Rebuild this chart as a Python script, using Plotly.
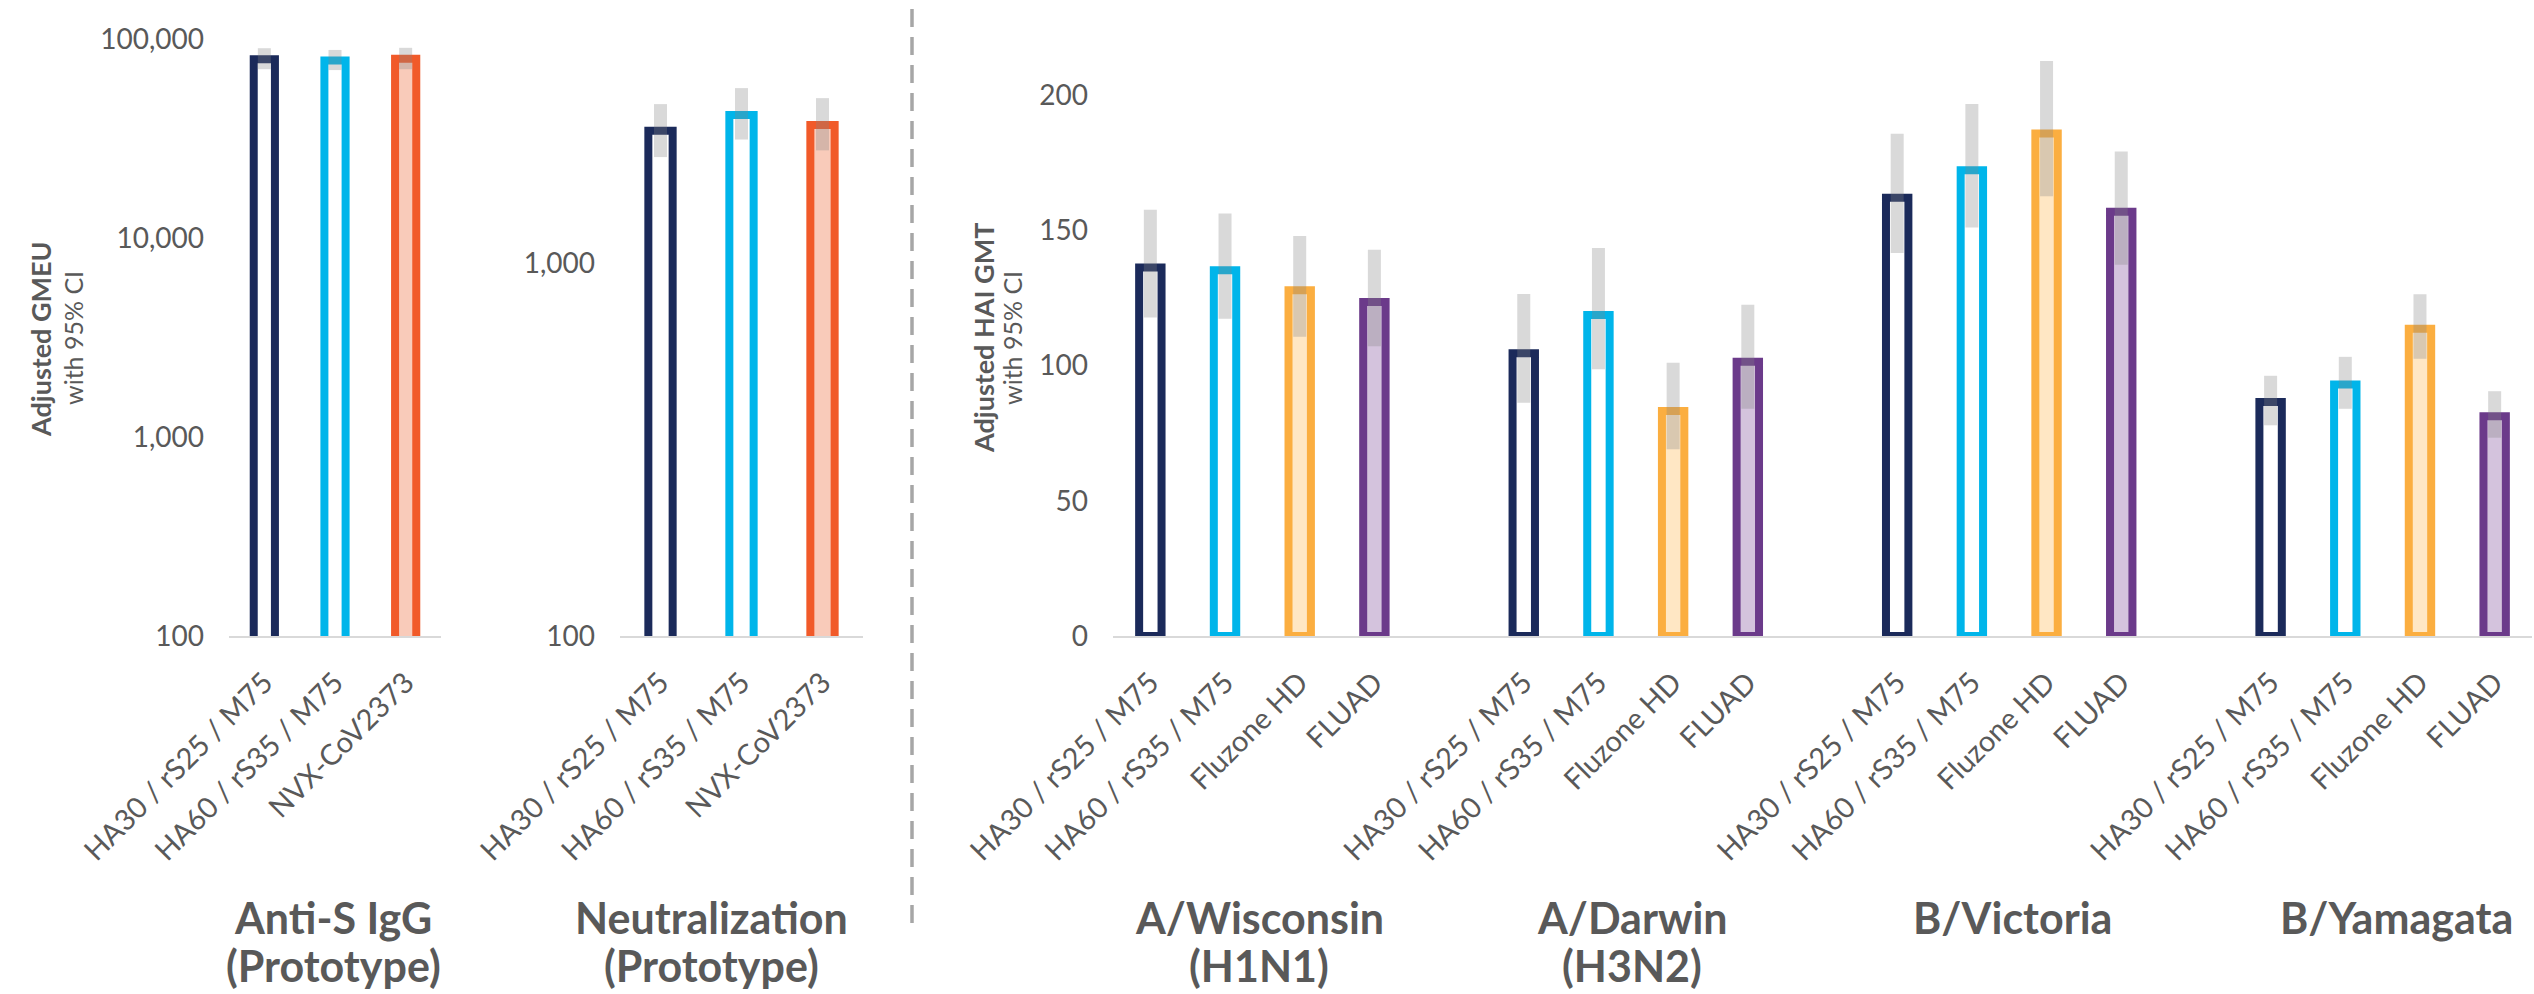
import plotly.graph_objects as go

W, H = 2534, 994

# ---------------- data ----------------
# COVID panels: three vaccine arms
covid_arms = ["HA30 / rS25 / M75", "HA60 / rS35 / M75", "NVX-CoV2373"]

igg_gmeu = [79200, 77900, 79600]
igg_lower = [70500, 69800, 70500]
igg_upper = [89900, 88100, 90300]

neut_gmt = [2261, 2494, 2344]
neut_lower = [1923, 2143, 2004]
neut_upper = [2667, 2944, 2767]

# Influenza HAI panel: four strains x four vaccine arms
flu_strains = [("A/Wisconsin", "(H1N1)"), ("A/Darwin", "(H3N2)"), ("B/Victoria", ""), ("B/Yamagata", "")]
flu_arms = ["HA30 / rS25 / M75", "HA60 / rS35 / M75", "Fluzone HD", "FLUAD"]

hai_ha30 = [136.2, 104.5, 162.0, 86.5]
hai_ha30_lower = [117.7, 86.2, 141.6, 77.9]
hai_ha30_upper = [157.6, 126.4, 185.7, 96.2]

hai_ha60 = [135.2, 118.7, 172.2, 93.0]
hai_ha60_lower = [117.3, 98.6, 151.0, 84.0]
hai_ha60_upper = [156.2, 143.4, 196.7, 103.2]

hai_fluzone = [127.8, 83.2, 185.8, 113.6]
hai_fluzone_lower = [110.6, 69.0, 162.6, 102.5]
hai_fluzone_upper = [147.9, 101.0, 212.6, 126.3]

hai_fluad = [123.5, 101.4, 156.8, 81.2]
hai_fluad_lower = [107.1, 84.0, 137.2, 73.3]
hai_fluad_upper = [142.8, 122.5, 179.1, 90.5]

# ---------------- styling ----------------
NAVY = "#1B2A5A"
CYAN = "#00B5EA"
RED = "#F15A29"
GOLD = "#FBAE40"
PURPLE = "#6B3A8A"
covid_line = [NAVY, CYAN, RED]
covid_fill = ["#FFFFFF", "#FFFFFF", "#F9CBBA"]
flu_line = [NAVY, CYAN, GOLD, PURPLE]
flu_fill = ["#FFFFFF", "#FFFFFF", "#FFE7C4", "#D4C3DD"]
CI_COLOR = "rgba(132,132,132,0.31)"
TXT = "#595959"
FONT = "Lato"
BAR_W = 0.3
EDGE = 8


def px_x(p):
    return p / W


def px_y(p):
    return 1 - p / H


fig = go.Figure()


def add_bars(xs, vals, lows, ups, line_c, fill_c, xa, ya):
    fig.add_trace(go.Bar(
        x=xs, y=vals, width=BAR_W,
        marker=dict(color=fill_c, line=dict(color=line_c, width=EDGE)),
        xaxis=xa, yaxis=ya, showlegend=False, hoverinfo="skip",
    ))
    fig.add_trace(go.Scatter(
        x=xs, y=vals, mode="markers",
        marker=dict(size=1, opacity=0),
        error_y=dict(
            type="data", symmetric=False,
            array=[u - v for u, v in zip(ups, vals)],
            arrayminus=[v - l for v, l in zip(vals, lows)],
            color=CI_COLOR, thickness=13, width=0,
        ),
        xaxis=xa, yaxis=ya, showlegend=False, hoverinfo="skip",
    ))


# Anti-S IgG panel
for i in range(len(covid_arms)):
    add_bars([i], [igg_gmeu[i]], [igg_lower[i]], [igg_upper[i]],
             covid_line[i], covid_fill[i], "x", "y")

# Neutralization panel
for i in range(len(covid_arms)):
    add_bars([i], [neut_gmt[i]], [neut_lower[i]], [neut_upper[i]],
             covid_line[i], covid_fill[i], "x2", "y2")

# HAI panel: one gap slot between strains
hai_sets = [
    (hai_ha30, hai_ha30_lower, hai_ha30_upper),
    (hai_ha60, hai_ha60_lower, hai_ha60_upper),
    (hai_fluzone, hai_fluzone_lower, hai_fluzone_upper),
    (hai_fluad, hai_fluad_lower, hai_fluad_upper),
]
slot = len(flu_arms) + 1
for a, (vals, lows, ups) in enumerate(hai_sets):
    xs = [s * slot + a for s in range(len(flu_strains))]
    add_bars(xs, vals, lows, ups, flu_line[a], flu_fill[a], "x3", "y3")

hai_ticks = [s * slot + a for s in range(len(flu_strains)) for a in range(len(flu_arms))]
hai_ticktext = [flu_arms[a] for s in range(len(flu_strains)) for a in range(len(flu_arms))]

y_bottom, y_top = 636, 39

xcommon = dict(showgrid=False, zeroline=False, showline=True, linecolor="#D9D9D9",
               linewidth=2, ticks="", tickangle=-45, automargin=False,
               tickfont=dict(family=FONT, size=29, color=TXT), ticklabelstandoff=16)
ycommon = dict(showgrid=False, zeroline=False, showline=False, ticks="", automargin=False,
               tickfont=dict(family=FONT, size=28, color=TXT), ticklabelstandoff=24)

fig.update_layout(
    width=W, height=H,
    margin=dict(l=0, r=0, t=0, b=0, autoexpand=False),
    paper_bgcolor="white", plot_bgcolor="white",
    barmode="overlay",
    xaxis=dict(domain=[px_x(229), px_x(441)], range=[-0.5, 2.5], anchor="y",
               tickvals=[0, 1, 2], ticktext=covid_arms, **xcommon),
    xaxis2=dict(domain=[px_x(620), px_x(863)], range=[-0.5, 2.5], anchor="y2",
                tickvals=[0, 1, 2], ticktext=covid_arms, **xcommon),
    xaxis3=dict(domain=[px_x(1113), px_x(2532)], range=[-0.5, 18.5], anchor="y3",
                tickvals=hai_ticks, ticktext=hai_ticktext, **xcommon),
    yaxis=dict(domain=[px_y(y_bottom), px_y(y_top)], type="log", range=[2, 5], anchor="x",
               tickvals=[100, 1000, 10000, 100000],
               ticktext=["100", "1,000", "10,000", "100,000"], **ycommon),
    yaxis2=dict(domain=[px_y(y_bottom), px_y(y_top)], type="log",
                range=[2, 2 + (y_bottom - y_top) / 373], anchor="x2",
                tickvals=[100, 1000], ticktext=["100", "1,000"], **ycommon),
    yaxis3=dict(domain=[px_y(y_bottom), px_y(y_top)], range=[0, (y_bottom - y_top) / 2.705],
                anchor="x3", tickvals=[0, 50, 100, 150, 200], **ycommon),
)

annotations = []


def note(x, y, text, size, angle=0):
    annotations.append(dict(
        x=px_x(x), y=px_y(y), xref="paper", yref="paper", text=text,
        textangle=angle, showarrow=False, align="center",
        font=dict(family=FONT, size=size, color=TXT),
        xanchor="center", yanchor="middle"))


# Y-axis titles (bold measure, regular qualifier)
note(41, 339, "<b>Adjusted GMEU</b>", 27, -90)
note(73, 338, "with 95% CI", 25, -90)
note(983, 338, "<b>Adjusted HAI GMT</b>", 27, -90)
note(1012, 338, "with 95% CI", 25, -90)

# Panel titles, two lines each
panel_titles = [
    (333, "Anti-S IgG", "(Prototype)"),
    (711, "Neutralization", "(Prototype)"),
]
strain_centers = [1259, 1632, 2012, 2396]
for xc, (l1, l2) in zip(strain_centers, flu_strains):
    panel_titles.append((xc, l1, l2))
for xc, l1, l2 in panel_titles:
    note(xc, 917, f"<b>{l1}</b>", 43)
    if l2:
        note(xc, 965, f"<b>{l2}</b>", 43)

fig.update_layout(annotations=annotations)

# Separator between COVID and influenza panels
fig.add_shape(type="line", xref="paper", yref="paper",
              x0=px_x(912), x1=px_x(912), y0=px_y(9), y1=px_y(933),
              line=dict(color="#A6A6A6", width=3.5, dash="18px,10px"))

fig.write_html("out.html")
